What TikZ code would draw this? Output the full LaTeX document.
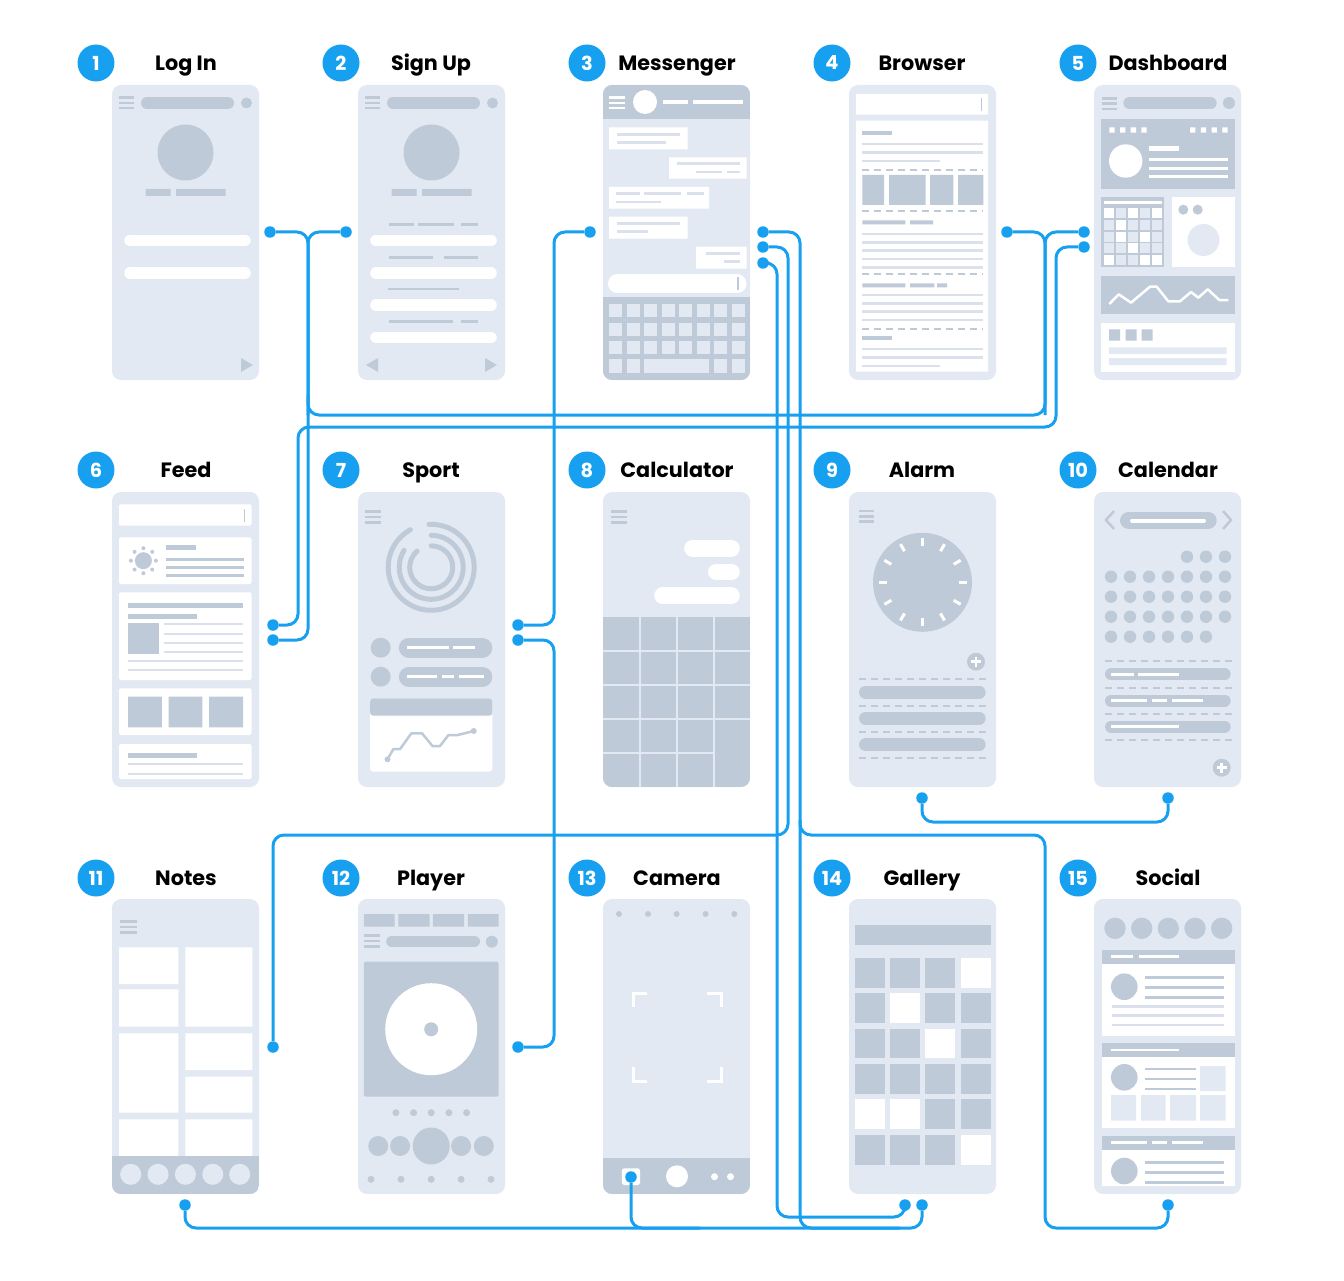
\documentclass[tikz,border=0pt]{standalone}
\usepackage{fontspec}
\newfontfamily\titlefont{Poppins}
\usepackage{tikz}
\usetikzlibrary{calc}
\definecolor{wf_bg}{RGB}{227, 233, 243}
\definecolor{wf_lt}{RGB}{218, 225, 237}
\definecolor{wf_dark}{RGB}{191, 202, 216}
\definecolor{wf_blue}{RGB}{24, 160, 240}
\tikzset{lw/.style={line width=#1*0.02cm}}
\tikzstyle{phone}=[fill=wf_bg,rounded corners=0.18cm]
\tikzstyle{pill}=[line cap=round]
\tikzstyle{dline}=[draw=wf_dark,line width=0.04cm,dash pattern=on 0.14cm off 0.1cm]
\tikzstyle{ring}=[draw=wf_dark,line width=0.1cm,line cap=round]
\tikzstyle{badge}=[circle,fill=wf_blue,text=white,inner sep=0pt,minimum size=0.74cm,
  font=\titlefont\bfseries\fontsize{11}{11}\selectfont]
\tikzstyle{heading}=[anchor=base,inner sep=0pt,text=black,
  font=\titlefont\bfseries\fontsize{11.8}{14}\selectfont]
\tikzstyle{dot}=[circle,fill=wf_blue,inner sep=0pt,minimum size=0.23cm]
\tikzstyle{wire}=[draw=wf_blue,line width=0.06cm,rounded corners=0.22cm]
\newcommand{\menuicon}[4]{\draw[#4,lw=2.5] (#1,#3) -- (#2,#3) (#1,#3+5.3) -- (#2,#3+5.3)
  (#1,#3+10.6) -- (#2,#3+10.6);}

\begin{document}
\begin{tikzpicture}[x=0.02cm,y=-0.02cm]
  \useasboundingbox[fill=white] (0,0) rectangle (1344,1280);

  % log in
  \begin{scope}[shift={(112,85)}]
    \fill[phone] (0,0) rectangle (147,295);
    \menuicon{7}{22}{12.5}{wf_dark}
    \draw[wf_dark,pill,lw=12] (35,18) -- (116,18);
    \fill[wf_dark] (134.5,18) circle (5.5);
    \fill[wf_dark] (73.5,67.5) circle (28);
    \fill[wf_dark] (33.5,104) rectangle (58.5,111) (64,104) rectangle (113.5,111);
    \draw[white,pill,lw=11.5] (18,155.5) -- (133,155.5) (18,188) -- (133,188);
    \fill[wf_dark] (129,273) -- (141,280) -- (129,287) -- cycle;
  \end{scope}

  % sign up
  \begin{scope}[shift={(358,85)}]
    \fill[phone] (0,0) rectangle (147,295);
    \menuicon{7}{22}{12.5}{wf_dark}
    \draw[wf_dark,pill,lw=12] (35,18) -- (116,18);
    \fill[wf_dark] (134.5,18) circle (5.5);
    \fill[wf_dark] (73.5,67.5) circle (28);
    \fill[wf_dark] (33.5,104) rectangle (58.5,111) (64,104) rectangle (113.5,111);
    \draw[wf_dark,lw=2.5] (31,139.3) -- (55.6,139.3) (59.8,139.3) -- (96.4,139.3)
      (103,139.3) -- (119.5,139.3) (31,172.7) -- (75,172.7) (85.8,172.7) -- (119.5,172.7)
      (30,204) -- (100.5,204) (31,236.3) -- (95,236.3) (103,236.3) -- (119.5,236.3);
    \draw[white,pill,lw=11.5] (18,155.5) -- (133,155.5) (18,188) -- (133,188)
      (18,220) -- (133,220) (18,252.5) -- (133,252.5);
    \fill[wf_dark] (20,273) -- (8,280) -- (20,287) -- cycle;
    \fill[wf_dark] (127,273) -- (139,280) -- (127,287) -- cycle;
  \end{scope}

  % messenger
  \begin{scope}[shift={(603,85)}]
    \fill[phone] (0,0) rectangle (147,295);
    \clip[rounded corners=0.18cm] (0,0) rectangle (147,295);
    \fill[wf_dark] (0,0) rectangle (147,34);
    \menuicon{6}{22}{12.5}{white}
    \fill[white] (42,17) circle (12);
    \draw[white,lw=4] (60,17.3) -- (85,17.3) (90,17.3) -- (140,17.3);
    \fill[white] (6,42.3) rectangle (84.5,64.3) (66,72.3) rectangle (143.5,93.7)
      (6,102) rectangle (106,123.7) (6,131.7) rectangle (84.5,153.7)
      (93,161.7) rectangle (143.5,183.7);
    \draw[wf_lt,lw=2.5] (14,49.3) -- (77,49.3) (14,57.3) -- (63,57.3)
      (74,78.7) -- (136.6,78.7) (93,87) -- (118.5,87) (124,87) -- (136.6,87)
      (12.6,108.7) -- (37,108.7) (41,108.7) -- (77.8,108.7) (84,108.7) -- (101,108.7)
      (12.6,117) -- (58,117) (14,138.3) -- (77,138.3) (14,146.7) -- (45,146.7)
      (103,168.3) -- (136.6,168.3) (120.7,176.3) -- (136.6,176.3);
    \draw[white,pill,lw=19] (14.5,198.8) -- (134,198.8);
    \draw[wf_dark,lw=1.5] (135,192.5) -- (135,205);
    \fill[wf_dark] (0,212.3) rectangle (147,295);
    \foreach \y in {219,237.7,256}
      \foreach \i in {0,...,7}
        \fill[wf_bg] (6+17.5*\i,\y) rectangle ++(13,13.3);
    \foreach \i in {0,1,6,7}
      \fill[wf_bg] (6+17.5*\i,274.3) rectangle ++(13,13.3);
    \fill[wf_bg] (40.8,274.3) rectangle (106.4,287.6);
  \end{scope}

  % browser
  \begin{scope}[shift={(849,85)}]
    \fill[phone] (0,0) rectangle (147,295);
    \fill[white] (7,9) rectangle (139,29.7) (7,35.7) rectangle (139,286.7);
    \draw[wf_dark,lw=1.5] (132.7,13) -- (132.7,25.7);
    \fill[wf_dark] (13.3,45.7) rectangle (43.3,50);
    \draw[wf_lt,lw=2.5] (13.3,59) -- (134.3,59) (13.3,67.7) -- (134.3,67.7) (13.3,76) -- (91,76);
    \foreach \y in {85,125.7,189.3,244.3}
      \draw[dline] (13.3,\y) -- (134.3,\y);
    \fill[wf_dark] (13.3,90) rectangle (35,120) (40,90) rectangle (76.7,120)
      (81,90) rectangle (104.3,120) (109,90) rectangle (134.3,120);
    \fill[wf_dark] (13.3,135.3) rectangle (56.3,139.3) (61,135.3) rectangle (84,139.3);
    \foreach \y in {149,157.3,165.7,174,182.3}
      \draw[wf_lt,lw=2.5] (13.3,\y) -- (134.3,\y);
    \fill[wf_dark] (13.3,198.3) rectangle (56.3,202.3) (61,198.3) rectangle (85.3,202.3)
      (88,198.3) rectangle (98,202.3);
    \foreach \y in {210,218.3,226.7,235}
      \draw[wf_lt,lw=2.5] (13.3,\y) -- (134.3,\y);
    \fill[wf_dark] (13.3,251) rectangle (43.3,255);
    \draw[wf_lt,lw=2.5] (13.3,264) -- (134.3,264) (13.3,272.3) -- (134.3,272.3) (13.3,281) -- (91,281);
  \end{scope}

  % dashboard
  \begin{scope}[shift={(1094,85)}]
    \fill[phone] (0,0) rectangle (147,295);
    \menuicon{7.7}{22.7}{13.3}{wf_dark}
    \draw[wf_dark,pill,lw=11.7] (35.2,18.2) -- (116.8,18.2);
    \fill[wf_dark] (135,18) circle (6);
    \fill[wf_dark] (7,34) rectangle (141,104);
    \foreach \i in {0,...,3}
      \fill[white] (15.3+10.7*\i,42.3) rectangle ++(5.3,5.3) (96+10.8*\i,42.3) rectangle ++(5.3,5.3);
    \fill[white] (31.7,76) circle (16.7);
    \draw[white,lw=5] (55,63.3) -- (85,63.3);
    \draw[white,lw=3] (55,75) -- (134.3,75) (55,83.3) -- (134.3,83.3) (55,91.7) -- (134.3,91.7);
    \fill[wf_dark] (7,111.7) rectangle (70,182.3);
    \draw[white,lw=3] (10,117.3) -- (67.7,117.3);
    \foreach \j in {0,...,4}
      \foreach \i in {0,...,4}
        \fill[wf_bg] (10+11.9*\i,123+11.8*\j) rectangle ++(10,10);
    \foreach \i/\j in {0/0,2/0,4/0,1/1,1/2,3/2,2/3,0/4,3/4,4/4}
      \fill[white] (10+11.9*\i,123+11.8*\j) rectangle ++(10,10);
    \fill[white] (77.7,111.7) rectangle (141,182.3);
    \fill[wf_dark] (89.3,124.7) circle (5) (103.7,124.7) circle (5);
    \fill[wf_bg] (109.5,155) circle (16);
    \fill[wf_dark] (7,191) rectangle (141,229.3);
    \draw[white,lw=2.5,line join=round] (15.3,219) -- (24.7,209.3) -- (37,217.7) -- (56,201.7)
      -- (62.7,201.7) -- (74.3,216.3) -- (86,216.3) -- (97,207) -- (104.3,212.7)
      -- (113.7,204.3) -- (125.3,215) -- (134.3,215);
    \fill[white] (7,238.3) rectangle (141,286.7);
    \fill[wf_dark] (15,244.3) rectangle (26,255.7) (31.7,244.3) rectangle (42.7,255.7)
      (47.7,244.3) rectangle (58.7,255.7);
    \fill[wf_bg] (15,262.3) rectangle (132.7,269) (15,273) rectangle (132.7,280);
  \end{scope}

  % feed
  \begin{scope}[shift={(112,492)}]
    \fill[phone] (0,0) rectangle (147,295);
    \fill[white,rounded corners=0.04cm] (7,12.3) rectangle (139.5,33.7);
    \draw[wf_dark,lw=1.5] (132.4,17) -- (132.4,29.7);
    \fill[white,rounded corners=0.04cm] (7,45.3) rectangle (139.5,92);
    \fill[wf_dark] (31.4,68.7) circle (8.5);
    \foreach \a in {0,45,...,315}
      \fill[wf_dark] (31.4,68.7) ++(\a:0.25cm) circle (2);
    \draw[wf_dark,lw=5] (54,55.7) -- (84,55.7);
    \draw[wf_dark,lw=3] (54,67) -- (132.4,67) (54,75.3) -- (132.4,75.3) (54,83.7) -- (132.4,83.7);
    \fill[white,rounded corners=0.04cm] (7,100.3) rectangle (139.5,188);
    \draw[wf_dark,lw=5] (16,113.7) -- (131,113.7) (16,124) -- (84.8,124);
    \fill[wf_dark] (16,131) rectangle (47,161.7);
    \draw[wf_lt,lw=2] (52.4,132.3) -- (131,132.3) (52.4,141.7) -- (131,141.7)
      (52.4,151) -- (131,151) (52.4,159.7) -- (131,159.7)
      (16,169) -- (131,169) (16,178.3) -- (131,178.3);
    \fill[white,rounded corners=0.04cm] (7,196.3) rectangle (139.5,243);
    \fill[wf_dark] (16,204.7) rectangle (49.9,235.3) (56.6,204.7) rectangle (90.3,235.3)
      (97,204.7) rectangle (131,235.3);
    \fill[white,rounded corners=0.04cm] (7,252) rectangle (139.5,287);
    \draw[wf_dark,lw=5] (16,263.7) -- (84.8,263.7);
    \draw[wf_lt,lw=2] (16,272.3) -- (131,272.3) (16,281.7) -- (131,281.7);
  \end{scope}

  % sport
  \begin{scope}[shift={(358,492)}]
    \fill[phone] (0,0) rectangle (147,295);
    \menuicon{7}{23}{19.7}{wf_dark}
    \draw[ring] (73.2,75.3) ++(93:0.86cm) arc[start angle=93,end angle=-241,radius=0.86cm];
    \draw[ring] (73.2,75.3) ++(90:0.64cm) arc[start angle=90,end angle=-212,radius=0.64cm];
    \draw[ring] (73.2,75.3) ++(90:0.43cm) arc[start angle=90,end angle=-229,radius=0.43cm];
    \fill[wf_dark] (22.7,155.7) circle (10) (22.7,184.7) circle (10);
    \draw[wf_dark,pill,lw=20] (50.8,155.7) -- (124.3,155.7) (50.8,184.7) -- (124.3,184.7);
    \draw[white,lw=2.5] (49.2,155.7) -- (90.5,155.7) (94.7,155.7) -- (116.6,155.7)
      (49.2,184.7) -- (78.7,184.7) (83.8,184.7) -- (96.4,184.7) (100.6,184.7) -- (125.8,184.7);
    \fill[white,rounded corners=0.06cm] (12.2,206.3) rectangle (134.3,279.7);
    \fill[wf_dark,rounded corners=0.06cm] (12.2,206.3) rectangle (134.3,223.7);
    \draw[wf_dark,lw=2.5,line join=round] (29.5,267.3) -- (35.4,257) -- (42.1,257) -- (53.4,241.3)
      -- (64,241.3) -- (74.5,254) -- (82,254) -- (90.5,243) -- (99.7,243) -- (115.7,239);
    \fill[wf_dark] (29.5,267.3) circle (3) (115.7,239) circle (3);
  \end{scope}

  % calculator
  \begin{scope}[shift={(603,492)}]
    \fill[phone] (0,0) rectangle (147,295);
    \clip[rounded corners=0.18cm] (0,0) rectangle (147,295);
    \menuicon{8.4}{24}{19.7}{wf_dark}
    \draw[white,pill,lw=16.7] (89.5,56.3) -- (128.4,56.3) (59.6,103.7) -- (128.4,103.7);
    \draw[white,pill,lw=16] (113,80) -- (128.7,80);
    \fill[wf_dark] (0,124.7) rectangle (147,295);
    \draw[wf_bg,lw=2] (37,124.7) -- (37,295) (73.6,124.7) -- (73.6,295) (110.6,124.7) -- (110.6,295)
      (0,158.7) -- (147,158.7) (0,193) -- (147,193) (0,227.3) -- (147,227.3) (0,261.3) -- (110.6,261.3);
  \end{scope}

  % alarm
  \begin{scope}[shift={(849,492)}]
    \fill[phone] (0,0) rectangle (147,295);
    \menuicon{10}{25.3}{19}{wf_dark}
    \fill[wf_dark] (73.5,90.3) circle (49.5);
    \foreach \a in {0,30,...,330}
      \draw[white,lw=3] (73.5,90.3) ++(\a:0.72cm) -- ++(\a:0.16cm);
    \fill[wf_dark] (127,169.7) circle (9);
    \draw[white,lw=2.5] (122,169.7) -- (132,169.7) (127,164.7) -- (127,174.7);
    \foreach \y in {187.3,213.7,239.7,265.7}
      \draw[dline] (10,\y) -- (136.7,\y);
    \draw[wf_dark,pill,lw=12.5] (16.3,200.3) -- (130.4,200.3) (16.3,226.3) -- (130.4,226.3)
      (16.3,252.7) -- (130.4,252.7);
  \end{scope}

  % calendar
  \begin{scope}[shift={(1094,492)}]
    \fill[phone] (0,0) rectangle (147,295);
    \draw[wf_dark,lw=2.5] (20,19) -- (12,28) -- (20,37) (129,19) -- (137,28) -- (129,37);
    \draw[wf_dark,pill,lw=17.6] (34.8,28.5) -- (113.9,28.5);
    \draw[white,pill,lw=4] (38,28.5) -- (110,28.5);
    \foreach \i in {4,5,6}
      \fill[wf_dark] (17+19*\i,64.7) circle (6.2);
    \foreach \j in {1,2,3}
      \foreach \i in {0,...,6}
        \fill[wf_dark] (17+19*\i,64.7+20*\j) circle (6.2);
    \foreach \i in {0,...,5}
      \fill[wf_dark] (17+19*\i,144.7) circle (6.2);
    \foreach \y in {169,195.7,221.7,247.7}
      \draw[dline] (11,\y) -- (137.7,\y);
    \draw[wf_dark,pill,lw=12] (17,182.3) -- (130.7,182.3) (17,208.5) -- (130.7,208.5)
      (17,234.7) -- (130.7,234.7);
    \draw[white,lw=2.5] (17,182.3) -- (40,182.3) (44.3,182.3) -- (85,182.3)
      (17,208.5) -- (52.7,208.5) (57.7,208.5) -- (73.3,208.5) (78.3,208.5) -- (108.7,208.5)
      (17,234.7) -- (85,234.7);
    \fill[wf_dark] (127.7,275.7) circle (9);
    \draw[white,lw=2.5] (122.7,275.7) -- (132.7,275.7) (127.7,270.7) -- (127.7,280.7);
  \end{scope}

  % notes
  \begin{scope}[shift={(112,899)}]
    \fill[phone] (0,0) rectangle (147,295);
    \clip[rounded corners=0.18cm] (0,0) rectangle (147,295);
    \menuicon{8.2}{24.6}{22.7}{wf_dark}
    \fill[white] (7,48.3) rectangle (66.3,85) (7,90.3) rectangle (66.3,127.7)
      (7,134.3) rectangle (66.3,213.7) (7,220.3) rectangle (66.3,262)
      (73.4,48.3) rectangle (140.4,127.7) (73.4,134.3) rectangle (140.4,171)
      (73.4,177.7) rectangle (140.4,213.7) (73.4,220.3) rectangle (140.4,262);
    \fill[wf_dark] (0,256.7) rectangle (147,295);
    \foreach \x in {18.7,46,73.4,100.8,127.7}
      \fill[wf_bg] (\x,275.3) circle (10.5);
  \end{scope}

  % player
  \begin{scope}[shift={(358,899)}]
    \fill[phone] (0,0) rectangle (147,295);
    \fill[wf_dark] (5.9,15) rectangle (36.6,27.7) (40.4,15) rectangle (71.5,27.7)
      (74.9,15) rectangle (106,27.7) (109.8,15) rectangle (140.6,27.7);
    \menuicon{5.9}{21.5}{36.7}{wf_dark}
    \draw[wf_dark,pill,lw=11.6] (34,42.5) -- (116.2,42.5);
    \fill[wf_dark] (133.8,42.7) circle (6);
    \fill[wf_dark,rounded corners=0.04cm] (5.9,62.7) rectangle (140.6,197.7);
    \fill[white] (73.2,130.2) circle (46);
    \fill[wf_dark] (73.2,130.3) circle (7);
    \foreach \x in {37.9,55.6,73.2,90.9,108.6}
      \fill[wf_dark] (\x,213.7) circle (3.5);
    \fill[wf_dark] (20.2,247) circle (10) (42.1,247) circle (10) (73.2,247) circle (18.5)
      (103.1,247) circle (10) (125.8,247) circle (10);
    \foreach \x in {13,43,73.2,103.1,133}
      \fill[wf_dark] (\x,280.3) circle (3.5);
  \end{scope}

  % camera
  \begin{scope}[shift={(603,899)}]
    \fill[phone] (0,0) rectangle (147,295);
    \clip[rounded corners=0.18cm] (0,0) rectangle (147,295);
    \foreach \x in {16,45,73.6,102.6,131.3}
      \fill[wf_dark] (\x,15) circle (3);
    \draw[white,lw=3] (30,108) -- (30,94) -- (44,94) (104,94) -- (118,94) -- (118,108)
      (30,168) -- (30,182) -- (44,182) (104,182) -- (118,182) -- (118,168);
    \fill[wf_dark] (0,259.3) rectangle (147,295);
    \fill[white,rounded corners=0.05cm] (18.9,269.3) rectangle (37,286);
    \fill[white] (74,277.3) circle (11);
    \fill[white] (111.5,277.7) circle (3.5) (127.5,277.7) circle (3.5);
  \end{scope}

  % gallery
  \begin{scope}[shift={(849,899)}]
    \fill[phone] (0,0) rectangle (147,295);
    \fill[wf_dark] (6,26) rectangle (141.7,46);
    \foreach \x in {6,41,76.3,111.7}
      \foreach \y in {59.3,94.3,129.7,165,200.3,236}
        \fill[wf_dark] (\x,\y) rectangle ++(30,29.5);
    \foreach \x/\y in {111.7/59.3,41/94.3,76.3/129.7,6/200.3,41/200.3,111.7/236}
      \fill[white] (\x,\y) rectangle ++(30,29.5);
  \end{scope}

  % social
  \begin{scope}[shift={(1094,899)}]
    \fill[phone] (0,0) rectangle (147,295);
    \foreach \x in {21,47.7,74.3,101,127.7}
      \fill[wf_dark] (\x,29.3) circle (10.7);
    \fill[wf_dark] (7.7,51) rectangle (141,65);
    \draw[white,lw=2.5] (17,57.7) -- (39.3,57.7) (45,57.7) -- (85,57.7);
    \fill[white] (7.7,65) rectangle (141,136.7);
    \fill[wf_dark] (30.3,87.7) circle (13.3);
    \draw[wf_dark,lw=2.5] (51,78.3) -- (130,78.3) (51,88.3) -- (130,88.3) (51,98.3) -- (130,98.3);
    \draw[wf_lt,lw=2.5] (17.7,107.7) -- (130,107.7) (17.7,116.7) -- (130,116.7) (17.7,126) -- (130,126);
    \fill[wf_dark] (7.7,143.7) rectangle (141,157.7);
    \draw[white,lw=2.5] (17,151) -- (85,151);
    \fill[white] (7.7,157.7) rectangle (141,229.3);
    \fill[wf_dark] (30.3,178.3) circle (13.3);
    \draw[wf_dark,lw=2.5] (51,170) -- (102,170) (51,180) -- (102,180) (51,190) -- (102,190);
    \fill[wf_bg] (106,167) rectangle (131.7,192) (17,196) rectangle (42,221.7)
      (47,196) rectangle (71.7,221.7) (76,196) rectangle (102,221.7) (106,196) rectangle (131.7,221.7);
    \fill[wf_dark] (7.7,237) rectangle (141,251);
    \draw[white,lw=2.5] (17,243.7) -- (52.7,243.7) (57.7,243.7) -- (73.3,243.7) (78.3,243.7) -- (108.7,243.7);
    \fill[white] (7.7,251) rectangle (141,287);
    \fill[wf_dark] (30.3,272) circle (13.3);
    \draw[wf_dark,lw=2.5] (51,263.7) -- (130,263.7) (51,273.7) -- (130,273.7) (51,283.7) -- (130,283.7);
  \end{scope}

  % numbers and names
  \foreach \i/\x/\y/\txt in {1/96/63/Log In,2/341/63/Sign Up,3/587/63/Messenger,
      4/832/63/Browser,5/1078/63/Dashboard,6/96/470/Feed,7/341/470/Sport,
      8/587/470/Calculator,9/832/470/Alarm,10/1078/470/Calendar,11/96/878/Notes,
      12/341/878/Player,13/587/878/Camera,14/832/878/Gallery,15/1078/878/Social} {
    \node[badge] (num\i) at (\x,\y) {\i};
    \node[heading] (name\i) at (\x+90,\y+7.5) {\txt};
  }

  % link dots
  \node[dot] (dLogIn) at (270,232) {};
  \node[dot] (dSignUp) at (346,232) {};
  \node[dot] (dMsgL) at (590,232) {};
  \node[dot] (dMsgA) at (763,232) {};
  \node[dot] (dMsgB) at (763,247) {};
  \node[dot] (dMsgC) at (763,263) {};
  \node[dot] (dBrowser) at (1007,232) {};
  \node[dot] (dDashA) at (1084,232) {};
  \node[dot] (dDashB) at (1084,247) {};
  \node[dot] (dFeedA) at (273,625) {};
  \node[dot] (dFeedB) at (273,640) {};
  \node[dot] (dSportA) at (518,625) {};
  \node[dot] (dSportB) at (518,640) {};
  \node[dot] (dAlarm) at (922,798) {};
  \node[dot] (dCalendar) at (1168,798) {};
  \node[dot] (dNotesR) at (273,1047) {};
  \node[dot] (dNotesB) at (185,1205) {};
  \node[dot] (dPlayer) at (518,1047) {};
  \node[dot] (dCamera) at (631,1177) {};
  \node[dot] (dGalleryA) at (905,1205) {};
  \node[dot] (dGalleryB) at (922,1205) {};
  \node[dot] (dSocial) at (1168,1205) {};

  \coordinate (jL) at (308,415);
  \coordinate (jLb) at (308,395);
  \coordinate (jR) at (1045,415);
  \coordinate (jM) at (800,820);

  % links
  \draw[wire] (dLogIn) -| (jL) |- (dFeedB);
  \draw[wire] (dSignUp) -| (jL);
  \draw[wire] (jLb) |- (jR) |- (dBrowser);
  \draw[wire] (dDashA) -| (jR);
  \draw[wire] (dDashB) -| (1056,427) -| (298,500) |- (dFeedA);
  \draw[wire] (dMsgL) -| (554,430) |- (dSportA);
  \draw[wire] (dSportB) -| (554,850) |- (dPlayer);
  \draw[wire] (dMsgA) -| (800,1228) -| (dGalleryB);
  \draw[wire] (jM) |- (1045,835) -- (1045,1228) -| (dSocial);
  \draw[wire] (dMsgB) -| (788,835) -| (dNotesR);
  \draw[wire] (dMsgC) -| (777,1217) -| (dGalleryA);
  \draw[wire] (dNotesB) |- (900,1228);
  \draw[wire] (dCamera) |- (700,1228);
  \draw[wire] (dAlarm) |- (1000,822) -| (dCalendar);
\end{tikzpicture}
\end{document}
